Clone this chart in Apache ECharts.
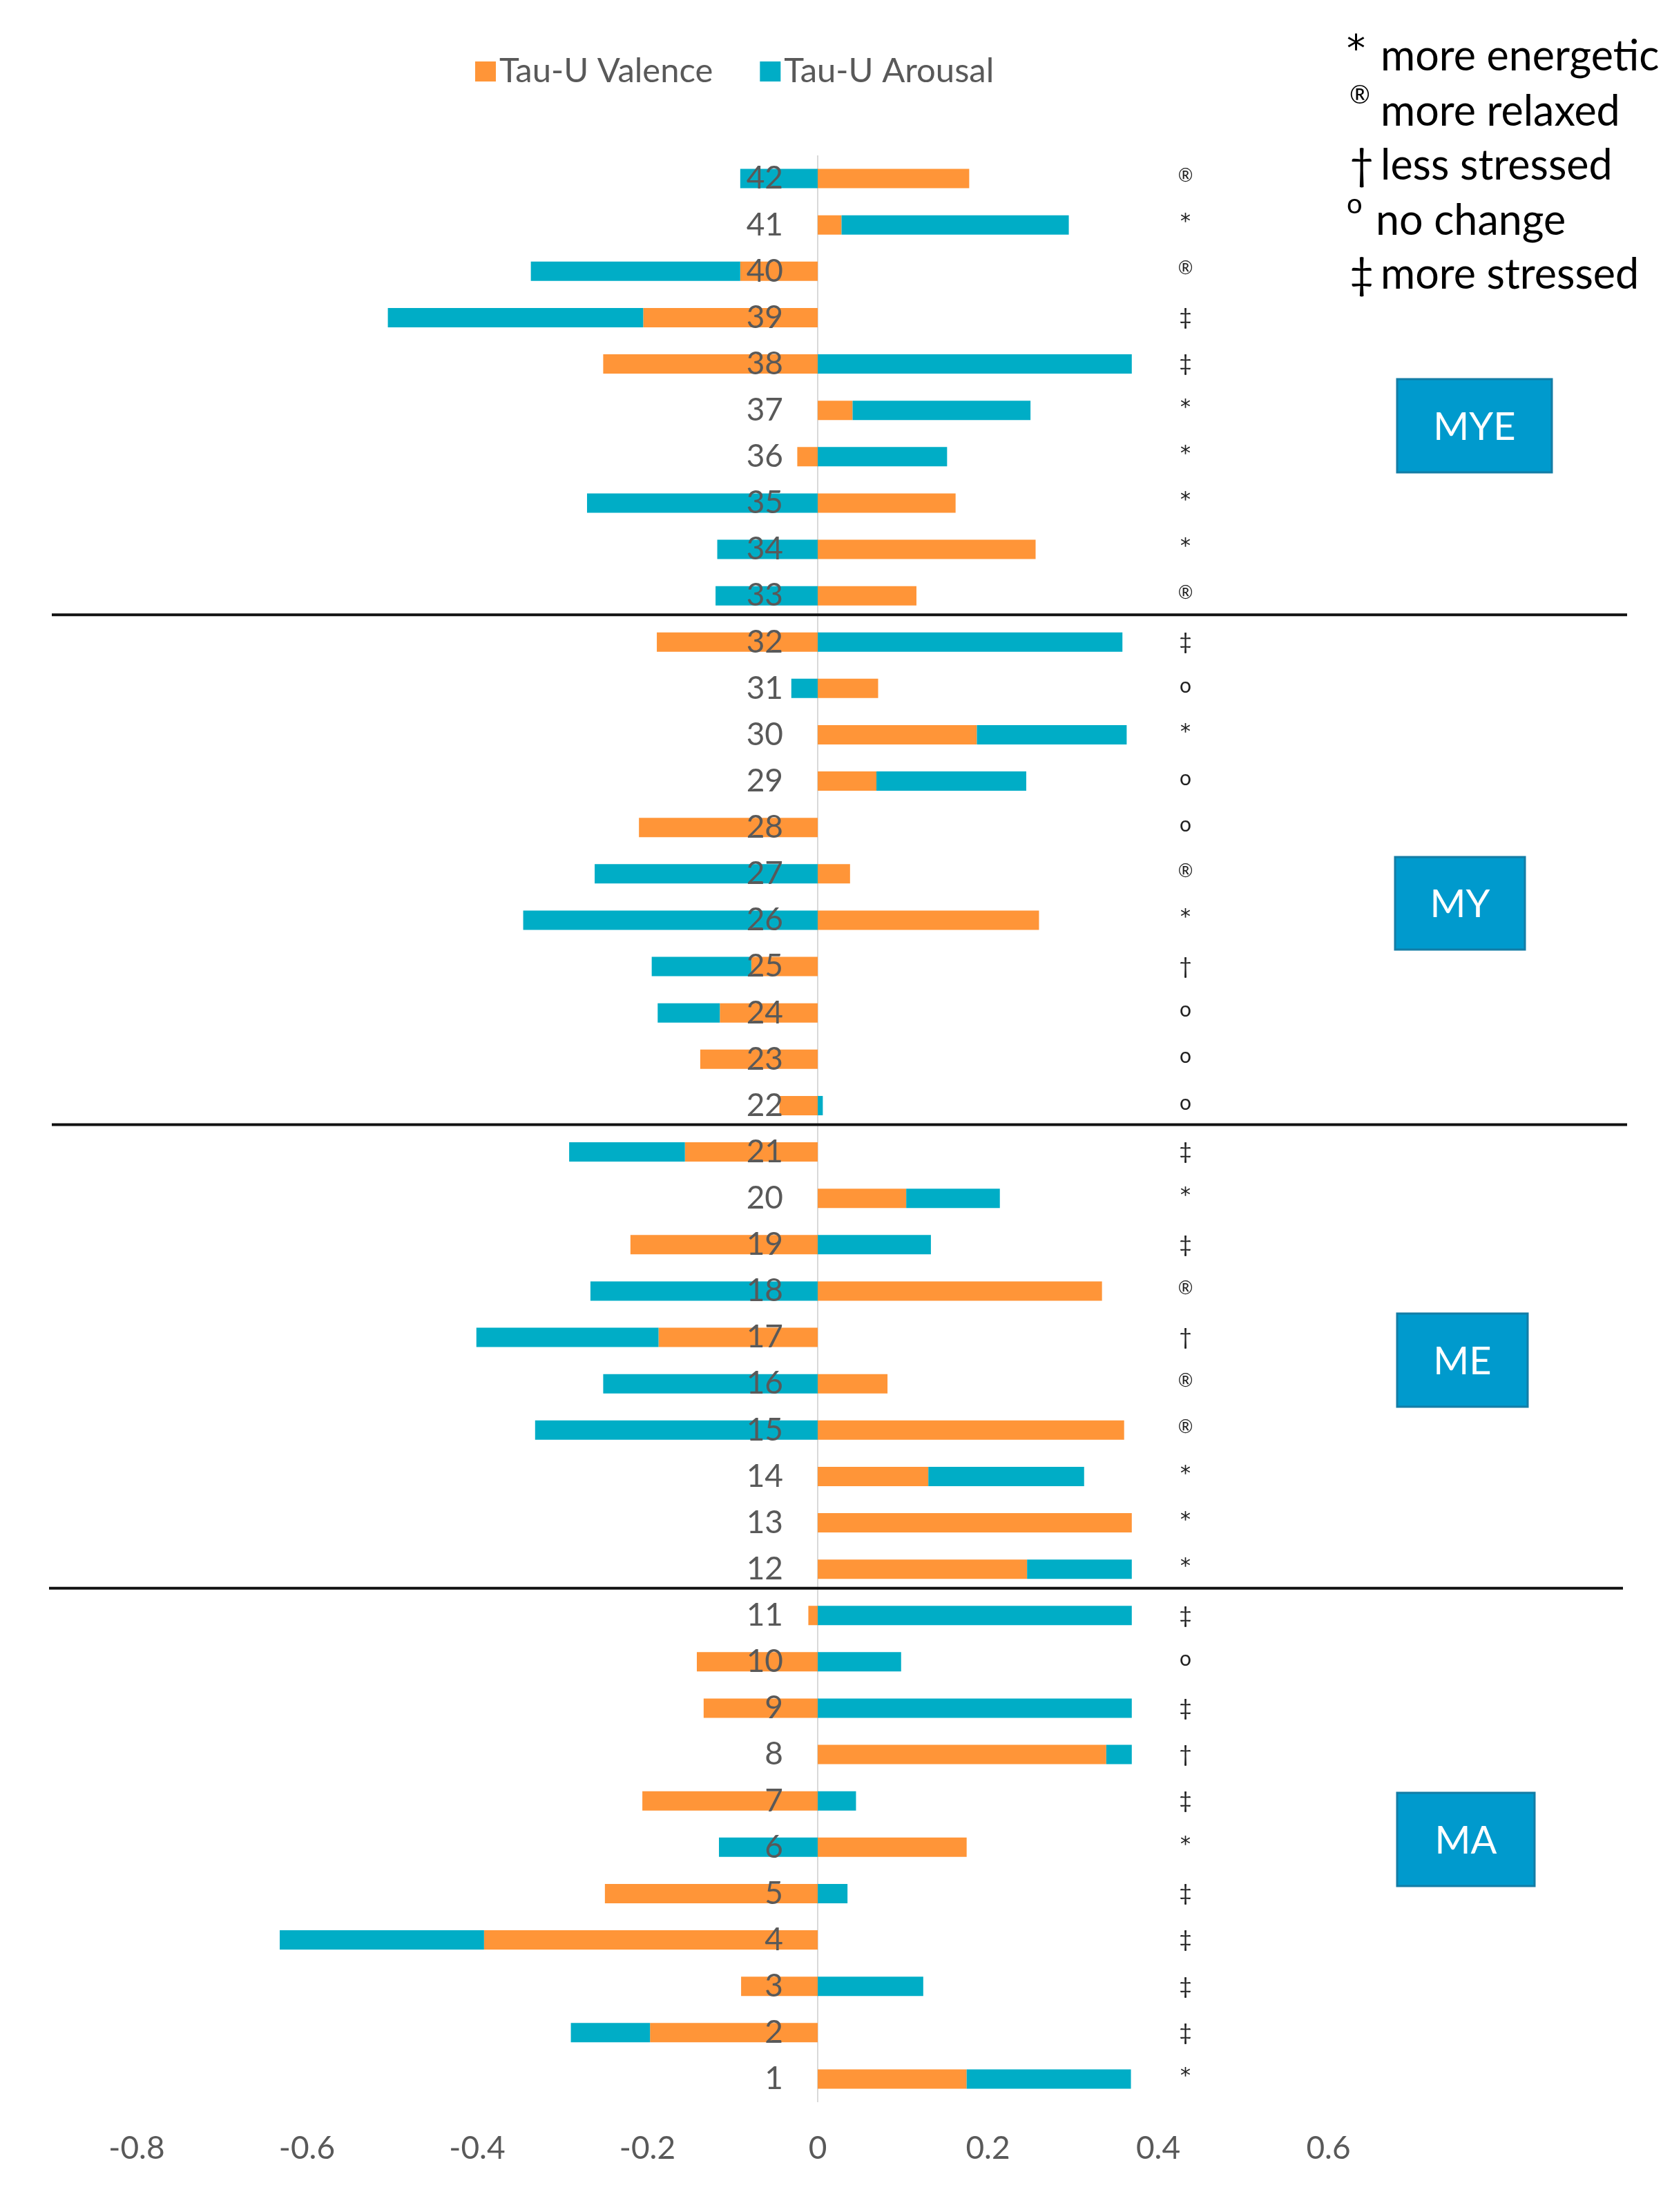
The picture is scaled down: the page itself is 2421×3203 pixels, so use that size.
<!DOCTYPE html>
<html><head><meta charset="utf-8">
<script src="https://cdn.jsdelivr.net/npm/echarts@6/dist/echarts.min.js"></script>
<style>html,body{margin:0;padding:0;background:#fff}#c{width:2421px;height:3203px}</style>
</head><body><div id="c"></div>
<script>
// ---- data ----
const categories = ['1','2','3','4','5','6','7','8','9','10','11','12','13','14','15','16','17','18','19','20','21',
  '22','23','24','25','26','27','28','29','30','31','32','33','34','35','36','37','38','39','40','41','42'];
const valence = [0.175,-0.197,-0.09,-0.392,-0.25,0.175,-0.206,0.339,-0.134,-0.142,-0.011,
  0.246,0.369,0.13,0.36,0.082,-0.187,0.334,-0.22,0.104,-0.156,
  -0.045,-0.138,-0.115,-0.078,0.26,0.038,-0.21,0.069,0.187,0.071,-0.189,
  0.116,0.256,0.162,-0.024,0.041,-0.252,-0.205,-0.091,0.028,0.178];
const arousal = [0.193,-0.093,0.124,-0.24,0.035,-0.116,0.045,0.03,0.369,0.098,0.369,
  0.123,0,0.183,-0.332,-0.252,-0.214,-0.267,0.133,0.11,-0.136,
  0.006,0,-0.073,-0.117,-0.346,-0.262,0,0.176,0.176,-0.031,0.358,
  -0.12,-0.118,-0.271,0.152,0.209,0.369,-0.30,-0.246,0.267,-0.091];
const symbols = ['*','‡','‡','‡','‡','*','‡','†','‡','o','‡',
  '*','*','*','®','®','†','®','‡','*','‡',
  'o','o','o','†','*','®','o','o','*','o','‡',
  '®','*','*','*','*','‡','‡','®','*','®'];
const xTicks = ['-0.8','-0.6','-0.4','-0.2','0','0.2','0.4','0.6'];
const seriesNames = ['Tau-U Valence','Tau-U Arousal'];
const keySymbols = ['*','®','†','o','‡'];
const keyTexts = ['more energetic','more relaxed','less stressed','no change','more stressed'];
const groupNames = ['MYE','MY','ME','MA'];
// group boundaries: pairs of categories between which a separator line is drawn
const groupBreaks = [['32','33'],['21','22'],['11','12']];

// ---- styles ----
const ORANGE = '#FF9538', BLUE = '#00ADC6', GRAY = '#595959', FONT = 'Lato';
const symStyle = {'*': 'star', '‡': 'dag', '†': 'dag', '®': 'reg', 'o': 'circ'};

const chart = echarts.init(document.getElementById('c'));
chart.setOption({
  animation: false,
  backgroundColor: '#fff',
  grid: {left: 198, right: 497.5, top: 225, bottom: 159, containLabel: false},
  legend: {
    data: seriesNames, left: 683, top: 74, icon: 'rect', itemWidth: 30, itemHeight: 29,
    itemGap: 68, itemTextGap: 13,
    textStyle: {fontFamily: FONT, fontSize: 49, color: GRAY}
  },
  xAxis: {
    type: 'value', min: -0.8, max: 0.6, interval: 0.2,
    axisLine: {show: false}, axisTick: {show: false}, splitLine: {show: false},
    axisLabel: {fontFamily: FONT, fontSize: 46, color: GRAY, margin: 44,
      formatter: v => xTicks[Math.round((v + 0.8) / 0.2)]}
  },
  yAxis: [{
    type: 'category', data: categories, z: 10, position: 'left',
    axisLine: {show: false, onZero: false},
    axisTick: {show: false},
    axisLabel: {inside: true, align: 'right', margin: 936, fontFamily: FONT, fontSize: 46, color: GRAY}
  }, {
    type: 'category', data: symbols, position: 'right',
    axisLine: {show: false, onZero: false}, axisTick: {show: false}, splitLine: {show: false},
    axisLabel: {inside: true, margin: 207, align: 'center', color: '#222',
      formatter: v => '{' + symStyle[v] + '|' + v + '}',
      rich: {
        star: {fontFamily: 'DejaVu Sans', fontSize: 30, color: '#222', padding: [0, 0, 6, 0]},
        dag: {fontFamily: FONT, fontSize: 32, color: '#222'},
        reg: {fontFamily: FONT, fontSize: 26, color: '#222', padding: [0, 0, 8, 0]},
        circ: {fontFamily: FONT, fontSize: 30, color: '#222', padding: [0, 0, 8, 0]}
      }}
  }],
  series: [
    {name: seriesNames[0], type: 'bar', stack: 't', data: valence, barWidth: 28, itemStyle: {color: ORANGE},
     markLine: {silent: true, symbol: 'none', label: {show: false}, animation: false,
       lineStyle: {color: '#d9d9d9', width: 2, type: 'solid'}, data: [{xAxis: 0}], z: 1}},
    {name: seriesNames[1], type: 'bar', stack: 't', data: arousal, barWidth: 28, itemStyle: {color: BLUE}}
  ]
});

// ---- annotations ----
const g = [];
const sepX = [[75, 2356], [75, 2356], [71, 2350]];
groupBreaks.forEach(([a, b], i) => {
  const y = (chart.convertToPixel({yAxisIndex: 0}, a) + chart.convertToPixel({yAxisIndex: 0}, b)) / 2 - 6;
  g.push({type: 'line', shape: {x1: sepX[i][0], y1: y, x2: sepX[i][1], y2: y}, style: {stroke: '#111', lineWidth: 4}, z: 20});
});
const boxes = [[2023, 549, 224, 135], [2020, 1241, 188, 134], [2023, 1902, 189, 135], [2023, 2596, 199, 135]];
groupNames.forEach((name, i) => {
  const [x, y, w, h] = boxes[i];
  g.push({type: 'rect', shape: {x, y, width: w, height: h},
    style: {fill: '#009ACD', stroke: '#137DA6', lineWidth: 3}, z: 20});
  g.push({type: 'text', x: x + w / 2, y: y + h / 2 + 2, z: 21,
    style: {text: name, font: '56px Lato', fill: '#fff', align: 'center', verticalAlign: 'middle'}});
});
const baselines = [102, 182, 260, 340, 418];
keyTexts.forEach((t, i) => {
  const b = baselines[i];
  const s = keySymbols[i];
  let font = '61px Lato', dy = -20, sx = 1954;
  if (s === '*') { font = '54px DejaVu Sans'; dy = -28; sx = 1950; }
  if (s === '®') { font = '36px Lato'; dy = -44; }
  if (s === 'o') { font = '40px Lato'; dy = -44; sx = 1950; }
  g.push({type: 'text', x: sx, y: b + dy, z: 20,
    style: {text: s, font: font, fill: '#000', align: 'left', verticalAlign: 'middle'}});
  g.push({type: 'text', x: s === 'o' ? 1992 : 1999, y: b - 20, z: 20,
    style: {text: t, font: '61px Lato', fill: '#000', align: 'left', verticalAlign: 'middle'}});
});
chart.setOption({graphic: g});
</script></body></html>
